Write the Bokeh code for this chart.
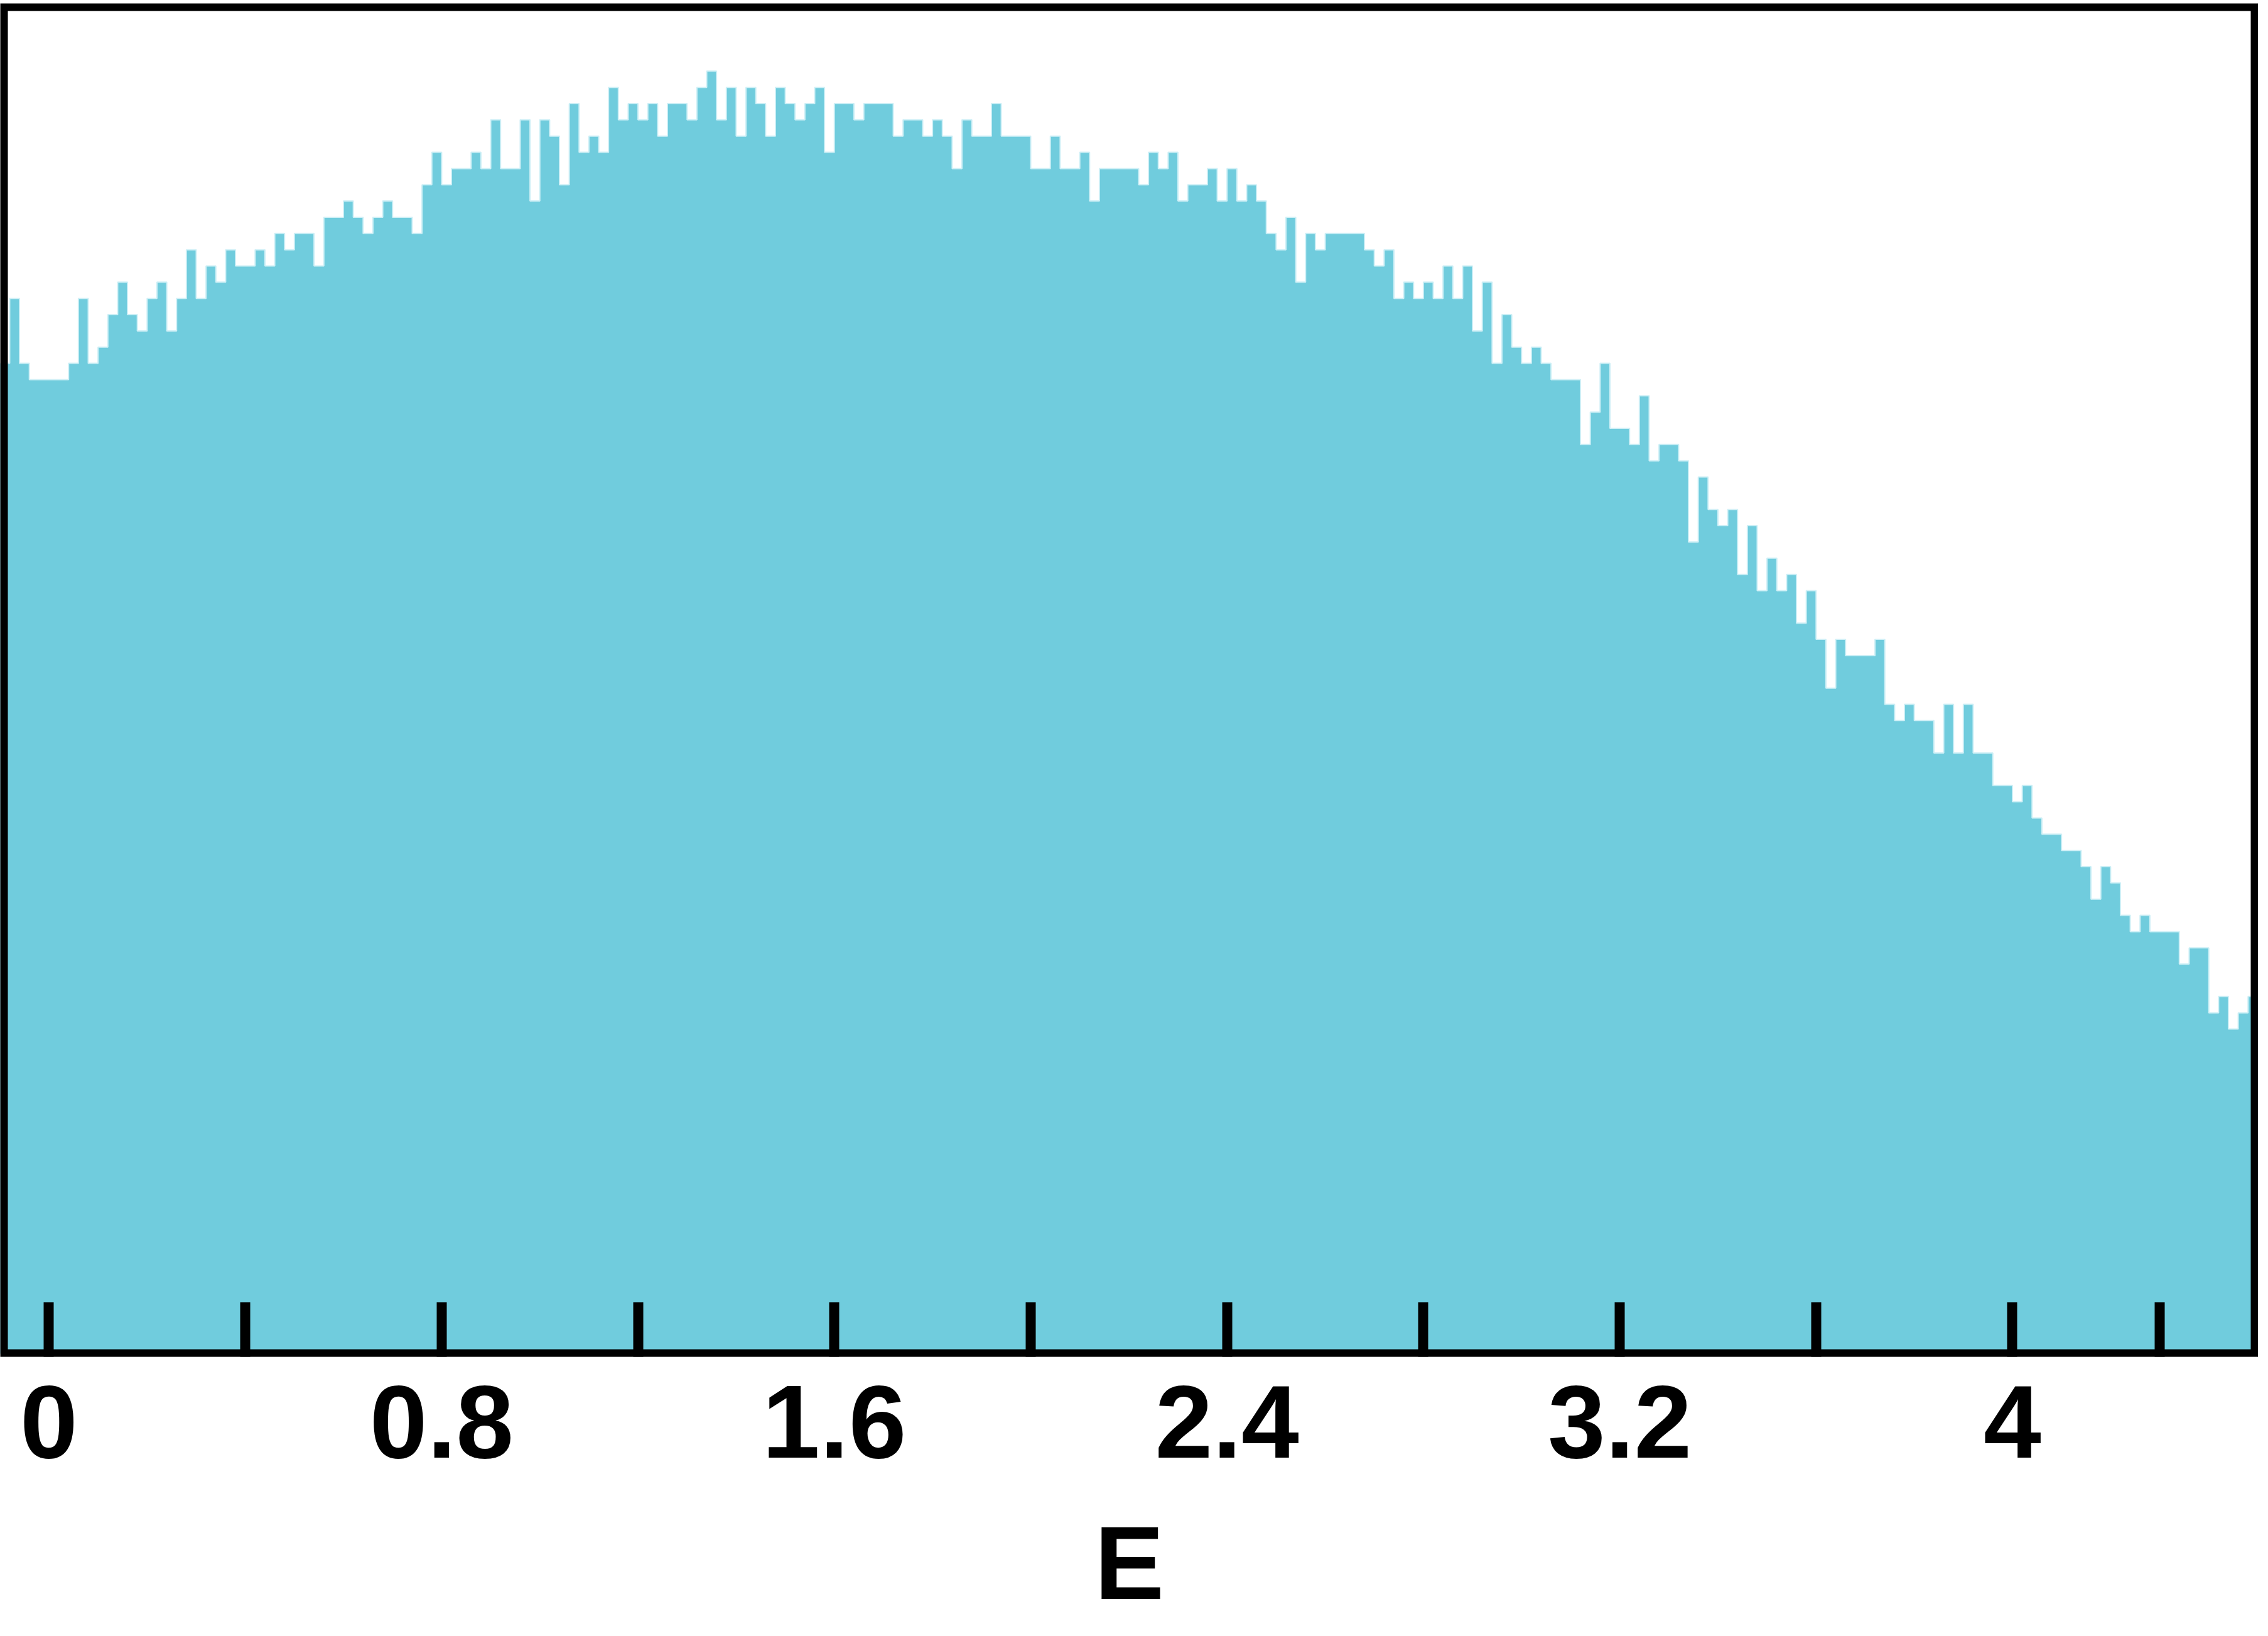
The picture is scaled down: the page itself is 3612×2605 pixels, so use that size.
import numpy as np
from bokeh.plotting import figure
from bokeh.layouts import column
from bokeh.models import Range1d, FixedTicker
from bokeh.core.properties import value
from bokeh.embed import file_html
from bokeh.resources import INLINE

# ---- data ----
bin_start = -0.10
bin_width = 0.02
counts = [
    61, 65, 61, 60, 60, 60, 60, 61, 65, 61, 62, 64, 66, 64, 63, 65, 66, 63, 65, 68,
    65, 67, 66, 68, 67, 67, 68, 67, 69, 68, 69, 69, 67, 70, 70, 71, 70, 69, 70, 71,
    70, 70, 69, 72, 74, 72, 73, 73, 74, 73, 76, 73, 73, 76, 71, 76, 75, 72, 77, 74,
    75, 74, 78, 76, 77, 76, 77, 75, 77, 77, 76, 78, 79, 76, 78, 75, 78, 77, 75, 78,
    77, 76, 77, 78, 74, 77, 77, 76, 77, 77, 77, 75, 76, 76, 75, 76, 75, 73, 76, 75,
    75, 77, 75, 75, 75, 73, 73, 75, 73, 73, 74, 71, 73, 73, 73, 73, 72, 74, 73, 74,
    71, 72, 72, 73, 71, 73, 71, 72, 71, 69, 68, 70, 66, 69, 68, 69, 69, 69, 69, 68,
    67, 68, 65, 66, 65, 66, 65, 67, 65, 67, 63, 66, 61, 64, 62, 61, 62, 61, 60, 60,
    60, 56, 58, 61, 57, 57, 56, 59, 55, 56, 56, 55, 50, 54, 52, 51, 52, 48, 51, 47,
    49, 47, 48, 45, 47, 44, 41, 44, 43, 43, 43, 44, 40, 39, 40, 39, 39, 37, 40, 37,
    40, 37, 37, 35, 35, 34, 35, 33, 32, 32, 31, 31, 30, 28, 30, 29, 27, 26, 27, 26,
    26, 26, 24, 25, 25, 21, 22, 20, 21, 22, 21,
]
tick_values = [0.0, 0.8, 1.6, 2.4, 3.2, 4.0]
tick_labels = ["0", "0.8", "1.6", "2.4", "3.2", "4"]
minor_tick_values = [0.4, 1.2, 2.0, 2.8, 3.6, 4.3]
x_label = "E"

# ---- derived ----
n = len(counts)
lefts = bin_start + bin_width * np.arange(n)
rights = lefts + bin_width
step_x = list(lefts) + [rights[-1]]
step_y = list(counts) + [counts[-1]]

FILL = "#70CCDD"
EDGE = "#CDEFF6"
FONT = "Liberation Sans"

X0, X1 = -0.0991, 4.5008
Y0, Y1 = -0.193, 83.17
W = 3596
H_MAIN = 2390
H_TITLE = 199

p = figure(
    width=W, height=H_MAIN,
    output_backend="svg", toolbar_location=None,
    x_range=Range1d(X0, X1), y_range=Range1d(Y0, Y1),
    y_axis_location=None,
    min_border_left=0, min_border_right=0, min_border_top=5, min_border_bottom=H_MAIN - 2160,
)
p.grid.visible = False
p.background_fill_color = "white"
p.border_fill_color = "white"
p.outline_line_color = None

p.varea_step(x=step_x, y1=0, y2=step_y, step_mode="after", fill_color=FILL)
p.step(x=step_x, y=step_y, mode="after", line_color=EDGE, line_width=2)

# frame box (clipped to the plot area, so only its inner half shows)
p.rect(x=[(X0 + X1) / 2], y=[(Y0 + Y1) / 2], width=[X1 - X0], height=[Y1 - Y0],
       fill_color=None, line_color="black", line_width=24)

ax = p.xaxis[0]
ax.ticker = FixedTicker(ticks=tick_values, minor_ticks=minor_tick_values)
ax.major_label_overrides = {v: l for v, l in zip(tick_values, tick_labels)}
ax.axis_line_color = None
ax.major_tick_in = 87
ax.major_tick_out = 0
ax.major_tick_line_width = 16
ax.major_tick_line_color = "black"
ax.minor_tick_in = 87
ax.minor_tick_out = 0
ax.minor_tick_line_width = 16
ax.minor_tick_line_color = "black"
ax.major_label_text_font = FONT
ax.major_label_text_font_style = "bold"
ax.major_label_text_font_size = "165px"
ax.major_label_text_color = "black"
ax.major_label_standoff = 46

# axis title strip directly under the plot (same x scale, centred under the frame)
t = figure(
    width=W, height=H_TITLE,
    output_backend="svg", toolbar_location=None,
    x_range=Range1d(X0, X1), y_range=Range1d(0, H_TITLE),
    x_axis_location=None, y_axis_location=None,
    min_border_left=0, min_border_right=0, min_border_top=0, min_border_bottom=0,
)
t.grid.visible = False
t.outline_line_color = None
t.background_fill_color = "white"
t.border_fill_color = "white"
t.text(x=[(X0 + X1) / 2], y=[101], text=[x_label],
       text_align="center", text_baseline="middle",
       text_font=value(FONT), text_font_style="bold", text_font_size="166px",
       text_color="black")

layout = column(p, t, spacing=0)
open("out.html", "w").write(file_html(layout, INLINE))
